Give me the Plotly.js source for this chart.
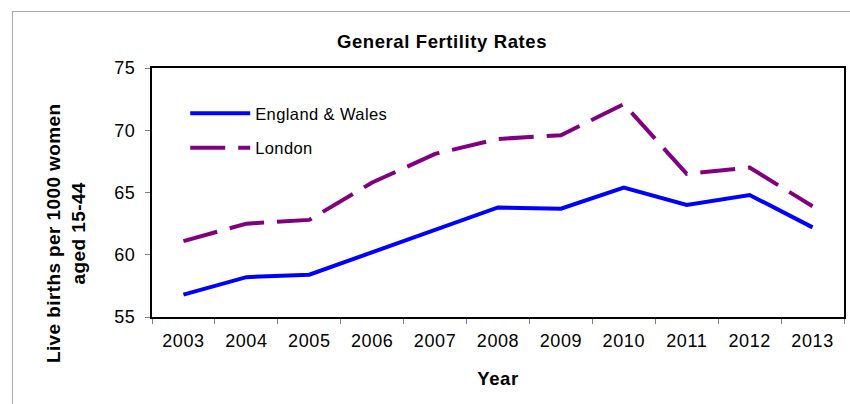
<!DOCTYPE html>
<html>
<head>
<meta charset="utf-8">
<script src="https://cdn.plot.ly/plotly-3.0.1.min.js"></script>
<style>
  html, body { margin: 0; padding: 0; background: #fff; overflow: hidden; }
  #wrap { position: relative; width: 850px; height: 404px; overflow: hidden; }
  #chart { position: absolute; left: 0; top: 0; width: 850px; height: 404px; }
  #frame { position: absolute; left: 12px; top: 11px; width: 900px; height: 500px;
           border: 1px solid #aaaaaa; box-sizing: border-box; pointer-events: none; }
  /* slightly looser glyph spacing, like the spreadsheet renderer */
  .xtick text, .ytick text { letter-spacing: 0.6px; }
  .legendtext { letter-spacing: 0.4px; }
  .gtitle { letter-spacing: 0.6px; }
  .xtitle { letter-spacing: 0.6px; }
  .annotation-text { letter-spacing: 0.4px; }
</style>
</head>
<body>
<div id="wrap">
  <div id="chart"></div>
  <div id="frame"></div>
</div>
<script>
// General fertility rate: live births per 1000 women aged 15-44
const years = ['2003', '2004', '2005', '2006', '2007', '2008', '2009', '2010', '2011', '2012', '2013'];
const englandWales = [56.8, 58.2, 58.4, 60.2, 62.0, 63.8, 63.7, 65.4, 64.0, 64.8, 62.2];
const london = [61.1, 62.5, 62.8, 65.8, 68.1, 69.3, 69.6, 72.1, 66.5, 67.0, 63.9];
const seriesNames = ['England & Wales', 'London'];
const yTicks = [55, 60, 65, 70, 75];

const FONT = 'Liberation Sans, Arial, sans-serif';

const traces = [
  {
    x: years, y: englandWales, name: seriesNames[0], type: 'scatter', mode: 'lines',
    line: { color: '#0000ff', width: 4 }, legendgroup: 'ew', hoverinfo: 'x+y'
  },
  {
    x: years, y: london, name: seriesNames[1], type: 'scatter', mode: 'lines',
    line: { color: '#800080', width: 4, dash: '35px,13px' }, legendgroup: 'ldn', hoverinfo: 'x+y'
  }
];

const layout = {
  width: 850, height: 404,
  margin: { l: 152, r: 6, t: 68, b: 87 },
  paper_bgcolor: 'rgba(0,0,0,0)',
  plot_bgcolor: '#ffffff',
  font: { family: FONT, color: '#000000', size: 16 },
  title: {
    text: '<b>General Fertility Rates</b>',
    font: { family: FONT, size: 18.5, color: '#000' },
    xref: 'container', x: 0.52, xanchor: 'center',
    yref: 'container', y: 0.896, yanchor: 'middle'
  },
  xaxis: {
    type: 'category', range: [-0.5, 10.5], tickson: 'boundaries',
    showgrid: false, zeroline: false,
    showline: true, linecolor: '#000', linewidth: 2, mirror: true,
    ticks: 'outside', ticklen: 5, tickwidth: 1, tickcolor: '#808080',
    tickfont: { family: FONT, size: 18, color: '#000' },
    ticklabelstandoff: 6,
    title: { text: '<b>Year</b>', font: { family: FONT, size: 18.5, color: '#000' }, standoff: 22 },
    fixedrange: true
  },
  yaxis: {
    range: [55, 75], tickvals: yTicks, ticktext: yTicks.map(String),
    showgrid: false, zeroline: false,
    showline: true, linecolor: '#000', linewidth: 2, mirror: true,
    ticks: 'outside', ticklen: 5, tickwidth: 1, tickcolor: '#808080',
    tickfont: { family: FONT, size: 18, color: '#000' },
    ticklabelstandoff: 6,
    fixedrange: true
  },
  legend: {
    x: 0.048, xanchor: 'left', y: 0.887, yanchor: 'top',
    bgcolor: 'rgba(0,0,0,0)', borderwidth: 0,
    font: { family: FONT, size: 16.5, color: '#000' },
    itemwidth: 60, tracegroupgap: 10
  },
  showlegend: true,
  annotations: [
    {
      text: '<b>Live births per 1000 women<br>aged 15-44</b>',
      textangle: -90, showarrow: false, align: 'center',
      xref: 'paper', yref: 'paper', x: -0.1243, y: 0.337,
      xanchor: 'center', yanchor: 'middle',
      font: { family: FONT, size: 19, color: '#000' }
    }
  ]
};

Plotly.newPlot('chart', traces, layout, { displayModeBar: false, staticPlot: true });
</script>
</body>
</html>
